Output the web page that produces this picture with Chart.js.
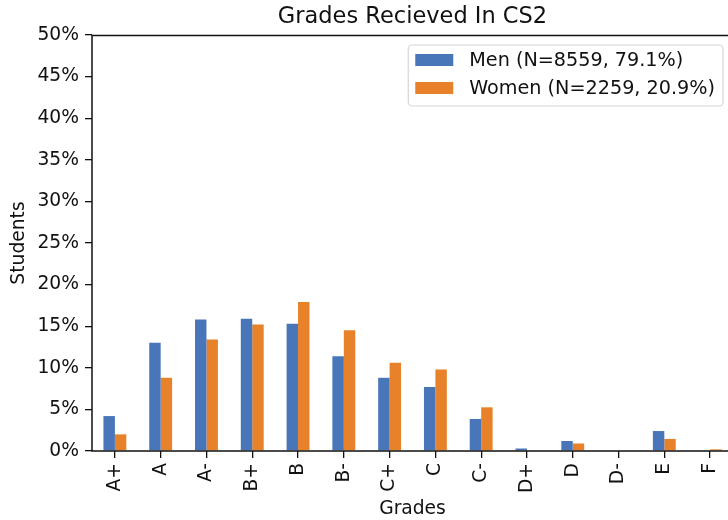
<!DOCTYPE html>
<html>
<head>
<meta charset="utf-8">
<script src="https://cdn.jsdelivr.net/npm/chart.js@4/dist/chart.umd.min.js"></script>
<style>
  html, body { margin: 0; padding: 0; background: #fff; overflow: hidden; }
  #wrap { width: 728px; height: 520px; overflow: hidden; }
</style>
</head>
<body>
<div id="wrap"><canvas id="grades" width="740" height="520"></canvas></div>
<script>
// Grade distribution, percent of students per gender
const grades = ['A+', 'A', 'A-', 'B+', 'B', 'B-', 'C+', 'C', 'C-', 'D+', 'D', 'D-', 'E', 'F'];
const menPct = [4.2, 13.0, 15.8, 15.9, 15.3, 11.4, 8.8, 7.7, 3.85, 0.3, 1.2, 0, 2.4, 0.1];
const womenPct = [2.0, 8.8, 13.4, 15.2, 17.9, 14.5, 10.6, 9.8, 5.25, 0, 0.9, 0, 1.45, 0.2];
const seriesLabels = ['Men (N=8559, 79.1%)', 'Women (N=2259, 20.9%)'];
const chartTitle = 'Grades Recieved In CS2';

const FONT = 'DejaVu Sans, sans-serif';
const FS = 18.7;
const BLUE = '#4876b9';
const ORANGE = '#e8822a';

// axes frame (all four spines)
const framePlugin = {
  id: 'frame',
  afterDatasetsDraw(chart) {
    const { ctx, chartArea: a } = chart;
    ctx.save();
    ctx.strokeStyle = '#111';
    ctx.lineWidth = 1.5;
    ctx.strokeRect(a.left, a.top + 0.5, a.right - a.left, a.bottom - a.top - 0.5);
    ctx.restore();
  },
};

// title + boxed legend in the upper right of the plot
const decorPlugin = {
  id: 'decor',
  afterDraw(chart) {
    const { ctx, chartArea: a } = chart;
    ctx.save();
    ctx.fillStyle = '#111';
    ctx.font = `22.5px ${FONT}`;
    ctx.textAlign = 'center';
    ctx.textBaseline = 'middle';
    ctx.fillText(chartTitle, (a.left + a.right) / 2, 17);

    ctx.font = `19.2px ${FONT}`;
    const textW = Math.max(...chart.data.datasets.map(d => ctx.measureText(d.label).width));
    const boxR = a.right - 10;
    const boxT = a.top + 10;
    const boxW = 7 + 38 + 16 + textW + 8;
    const boxH = 61;
    const boxL = boxR - boxW;
    ctx.beginPath();
    ctx.roundRect(boxL, boxT, boxW, boxH, 4);
    ctx.fillStyle = 'rgba(255,255,255,0.85)';
    ctx.fill();
    ctx.strokeStyle = '#d6d6d6';
    ctx.lineWidth = 1.2;
    ctx.stroke();
    ctx.textAlign = 'left';
    chart.data.datasets.forEach((d, i) => {
      const cy = boxT + 15 + i * 28;
      ctx.fillStyle = d.backgroundColor;
      ctx.fillRect(boxL + 7, cy - 6, 38, 12);
      ctx.fillStyle = '#111';
      ctx.fillText(d.label, boxL + 7 + 38 + 16, cy + 1);
    });
    ctx.restore();
  },
};

const tickFont = { family: FONT, size: FS };

new Chart(document.getElementById('grades'), {
  type: 'bar',
  data: {
    labels: grades,
    datasets: [
      { label: seriesLabels[0], data: menPct, backgroundColor: BLUE },
      { label: seriesLabels[1], data: womenPct, backgroundColor: ORANGE },
    ],
  },
  options: {
    responsive: false,
    animation: false,
    devicePixelRatio: 1,
    layout: { padding: { top: 35, right: 7, left: 0, bottom: 0 } },
    datasets: { bar: { categoryPercentage: 0.5, barPercentage: 1.0 } },
    plugins: {
      legend: { display: false },
      title: { display: false },
      tooltip: { enabled: false },
    },
    scales: {
      x: {
        offset: true,
        border: { display: false },
        grid: { drawOnChartArea: false, drawTicks: true, tickLength: 7, color: '#111', lineWidth: 1.3, offset: false },
        ticks: { minRotation: 90, maxRotation: 90, padding: 5, color: '#111', font: tickFont, autoSkip: false },
        title: { display: true, text: 'Grades', color: '#111', font: tickFont, padding: { top: 0, bottom: 0 } },
        afterFit(scale) { scale.height = 69; },
      },
      y: {
        min: 0,
        max: 50,
        border: { display: false },
        grid: { drawOnChartArea: false, drawTicks: true, tickLength: 7, color: '#111', lineWidth: 1.3 },
        ticks: { stepSize: 5, padding: 6, color: '#111', font: tickFont, callback: v => v + '%' },
        title: { display: true, text: 'Students', color: '#111', font: tickFont, padding: { top: 8, bottom: 0 } },
        afterFit(scale) { scale.width = 92; },
      },
    },
  },
  plugins: [framePlugin, decorPlugin],
});
</script>
</body>
</html>
